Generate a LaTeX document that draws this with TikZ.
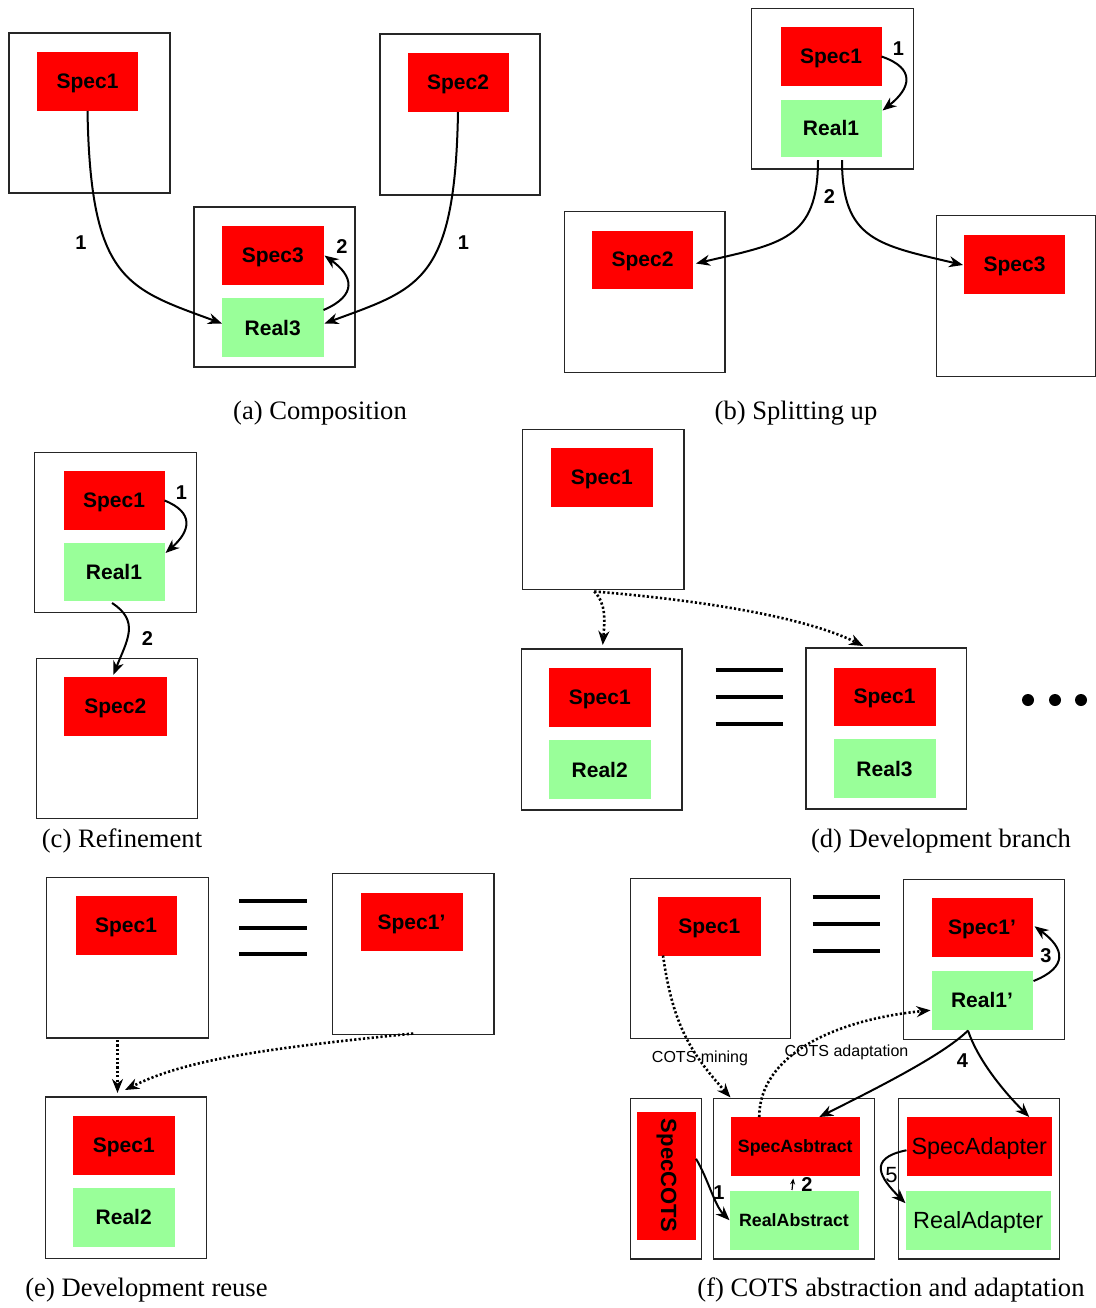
\documentclass[tikz,border=0pt]{standalone}
\usepackage{fontspec}
\setmainfont{Liberation Serif}
\setsansfont{Liberation Sans}
\usetikzlibrary{arrows.meta,calc}
\definecolor{specred}{RGB}{255,0,0}
\definecolor{realgreen}{RGB}{153,255,153}
% \mkbox{style}{name}{x1}{y1}{x2}{y2}{text}: rectangle given by its corners
\newcommand\mkbox[7]{\node[#1, minimum width={(#5-#3)*0.5pt}, minimum height={(#6-#4)*0.5pt}] (#2) at ({(#3+#5)/2},{(#4+#6)/2}) {#7};}
\begin{document}
\begin{tikzpicture}[x=0.5pt,y=-0.5pt,
  frame/.style={draw=black!85, line width=0.7pt, inner sep=0pt, outer sep=0pt},
  boxfont/.style={font=\sffamily\bfseries\fontsize{10.5}{12}\selectfont},
  spec/.style={fill=specred, inner sep=0pt, outer sep=0pt, text depth=0pt, boxfont},
  real/.style={fill=realgreen, inner sep=0pt, outer sep=0pt, text depth=0pt, boxfont},
  smallbold/.style={font=\sffamily\bfseries\fontsize{8.9}{10}\selectfont},
  bigplain/.style={font=\sffamily\fontsize{11.7}{13}\selectfont},
  arr/.style={-{Stealth[length=7pt,width=5.5pt]}, line width=1pt},
  darr/.style={dash pattern=on 1.1pt off 1.1pt, line width=1.3pt, -{Stealth[length=7pt,width=5.5pt]}},
  num/.style={font=\sffamily\bfseries\fontsize{10}{12}\selectfont, inner sep=0pt},
  plainnum/.style={font=\sffamily\fontsize{11}{13}\selectfont, inner sep=0pt},
  tag/.style={font=\sffamily\fontsize{8}{10}\selectfont, inner sep=0pt},
  subcap/.style={font=\fontsize{13.3}{16}\selectfont, inner sep=0pt},
  eq/.style={line width=2pt},
]
\useasboundingbox (0,0) rectangle (1096,1308);

% ---------------- (a) Composition ----------------
\mkbox{frame}{a1}{9}{33}{170}{193}{}
\mkbox{spec}{a1s}{37}{52}{138}{111}{Spec1}
\mkbox{frame}{a2}{380}{34}{540}{195}{}
\mkbox{spec}{a2s}{407.5}{53}{508.5}{112}{Spec2}
\mkbox{frame}{a3}{194}{207}{355}{367}{}
\mkbox{spec}{a3s}{222}{226}{323.5}{285}{Spec3}
\mkbox{real}{a3r}{222}{298}{323.5}{357}{Real3}
\draw[arr] (a1s.south) .. controls +(3,170) and +(-95,-35) .. ($(a3r.west)+(0,-4)$);
\draw[arr] (a2s.south) .. controls +(-3,170) and +(95,-35) .. ($(a3r.east)+(1,-4)$);
\draw[arr] ($(a3r.north east)+(0,12)$) .. controls +(35,-15) and +(28,20) .. ($(a3s.east)+(1,0)$);
\node[num] (al1) at (81,243) {1};
\node[num] (al2) at (463.5,243) {1};
\node[num] (al3) at (342,247) {2};
\node[subcap] (acap) at (320,413) {(a) Composition};

% ---------------- (b) Splitting up ----------------
\mkbox{frame}{b1}{751.5}{8.5}{913.5}{169}{}
\mkbox{spec}{b1s}{780.5}{27}{881.5}{86}{Spec1}
\mkbox{real}{b1r}{780.5}{99.5}{881.5}{157}{Real1}
\mkbox{frame}{b2}{564.5}{211.5}{725}{372.5}{}
\mkbox{spec}{b2s}{592}{230.5}{693}{288.5}{Spec2}
\mkbox{frame}{b3}{936.5}{215.5}{1095.5}{376.5}{}
\mkbox{spec}{b3s}{964}{234.5}{1065}{293.5}{Spec3}
\draw[arr] (b1s.east) .. controls +(35,12) and +(28,-22) .. ($(b1r.north east)+(1,11)$);
\draw[arr] ($(b1r.south)+(-13,3)$) .. controls +(0,80) and +(85,-20) .. ($(b2s.east)+(3,4)$);
\draw[arr] ($(b1r.south)+(11,3)$) .. controls +(0,80) and +(-85,-20) .. ($(b3s.west)+(-1,1)$);
\node[num] (bl1) at (898.5,48.5) {1};
\node[num] (bl2) at (829.5,197) {2};
\node[subcap] (bcap) at (796,413) {(b) Splitting up};

% ---------------- (c) Refinement ----------------
\mkbox{frame}{c1}{34.5}{452.5}{196.5}{612.5}{}
\mkbox{spec}{c1s}{63.5}{471}{164.5}{530}{Spec1}
\mkbox{real}{c1r}{63.5}{543}{164.5}{601}{Real1}
\mkbox{frame}{c2}{36.5}{658.5}{197.5}{818.5}{}
\mkbox{spec}{c2s}{64}{677}{166.5}{736}{Spec2}
\draw[arr] (c1s.east) .. controls +(30,12) and +(25,-22) .. ($(c1r.north east)+(1,10)$);
\draw[arr] ($(c1r.south)+(-2,2)$) .. controls +(28,18) and +(14,-35) .. ($(c2s.north)+(-2,-2)$);
\node[num] (cl1) at (181.5,492.5) {1};
\node[num] (cl2) at (147.5,638.5) {2};
\node[subcap] (ccap) at (122,841) {(c) Refinement};

% ---------------- (d) Development branch ----------------
\mkbox{frame}{d1}{522.5}{429.5}{684}{589.5}{}
\mkbox{spec}{d1s}{551}{448}{652.5}{507}{Spec1}
\mkbox{frame}{d2}{521.5}{649}{682}{810}{}
\mkbox{spec}{d2s}{549}{667.5}{650.5}{726.5}{Spec1}
\mkbox{real}{d2r}{549}{740}{650.5}{799}{Real2}
\mkbox{frame}{d3}{806}{648}{966.5}{809}{}
\mkbox{spec}{d3s}{833.5}{667.5}{935.5}{725.5}{Spec1}
\mkbox{real}{d3r}{833.5}{739}{935.5}{798}{Real3}
\draw[eq] (715.5,669.5) -- (782.5,669.5);
\draw[eq] (715.5,696.5) -- (782.5,696.5);
\draw[eq] (715.5,723.5) -- (782.5,723.5);
\fill (1028,700) circle[radius=3pt];
\fill (1055,700) circle[radius=3pt];
\fill (1081,700) circle[radius=3pt];
\draw[darr] ($(d1.south)+(-9,2)$) .. controls +(12,12) and +(2,-25) .. ($(d2.north)+(1,-4)$);
\draw[darr] ($(d1.south)+(-9,2)$) .. controls +(100,8) and +(-60,-30) .. ($(d3.north)+(-23,-2)$);
\node[subcap] (dcap) at (941,841) {(d) Development branch};

% ---------------- (e) Development reuse ----------------
\mkbox{frame}{e1}{46.5}{877.5}{208.5}{1038}{}
\mkbox{spec}{e1s}{75.5}{896}{176.5}{955}{Spec1}
\draw[eq] (239,901) -- (306.5,901);
\draw[eq] (239,928) -- (306.5,928);
\draw[eq] (239,954) -- (306.5,954);
\mkbox{frame}{e2}{332.5}{873.5}{494}{1034.5}{}
\mkbox{spec}{e2s}{360.5}{893}{462.5}{951}{Spec1’}
\mkbox{frame}{e3}{45.5}{1097}{206.5}{1258.5}{}
\mkbox{spec}{e3s}{73}{1115.5}{174.5}{1174.5}{Spec1}
\mkbox{real}{e3r}{73}{1188}{174.5}{1246.5}{Real2}
\draw[darr] ($(e1.south)+(-10,2)$) -- ($(e3.north)+(-8.5,-4)$);
\draw[darr] ($(e2.south)+(0,-1)$) .. controls +(-150,15) and +(60,-30) .. ($(e3.north)+(-1,-7)$);
\node[subcap] (ecap) at (146.5,1290) {(e) Development reuse};

% ---------------- (f) COTS abstraction and adaptation ----------------
\mkbox{frame}{f1}{630.5}{878.5}{790.5}{1038.5}{}
\mkbox{spec}{f1s}{658}{897}{760.5}{955.5}{Spec1}
\draw[eq] (812.5,896.5) -- (879.5,896.5);
\draw[eq] (812.5,923.5) -- (879.5,923.5);
\draw[eq] (812.5,950.5) -- (879.5,950.5);
\mkbox{frame}{f2}{903.5}{879.5}{1064.5}{1039.5}{}
\mkbox{spec}{f2s}{931.5}{898}{1032.5}{956.5}{Spec1’}
\mkbox{real}{f2r}{931.5}{971}{1032.5}{1029.5}{Real1’}
\mkbox{frame}{f3}{630.5}{1098.5}{701.5}{1259}{}
\mkbox{spec}{f3s}{637}{1112}{696}{1239.5}{}
\node[rotate=-90, font=\sffamily\bfseries\fontsize{11}{13}\selectfont, inner sep=0pt] (f3t) at (f3s.center) {SpecCOTS};
\mkbox{frame}{f4}{713.5}{1098.5}{874.5}{1259}{}
\mkbox{spec, smallbold}{f4s}{731}{1117}{859.5}{1175.5}{SpecAsbtract}
\mkbox{real, smallbold}{f4r}{729.5}{1191}{858.5}{1249.5}{RealAbstract}
\mkbox{frame}{f5}{898.5}{1098.5}{1059.5}{1259}{}
\mkbox{spec, bigplain}{f5s}{906.5}{1117}{1052}{1175.5}{SpecAdapter}
\mkbox{real, bigplain}{f5r}{905.5}{1191}{1051}{1249.5}{RealAdapter}
\draw[darr] ($(f1s.south west)+(5,0)$) .. controls +(10,70) and +(-40,-45) .. ($(f4.north west)+(17,-1)$);
\draw[darr] ($(f4s.north)+(-36,0)$) .. controls +(0,-60) and +(-100,10) .. ($(f2r.west)+(-1,10)$);
\node[tag] (fmine) at (700,1058) {COTS mining};
\node[tag] (fadapt) at (846.5,1052.5) {COTS adaptation};
\draw[arr] ($(f2r.north east)+(1,10)$) .. controls +(35,-14) and +(30,22) .. ($(f2s.east)+(2,-1)$);
\draw[arr] ($(f2r.south)+(-14,1)$) .. controls +(-25,25) and +(50,-25) .. ($(f4s.north)+(24,0)$);
\draw[arr] ($(f2r.south)+(-14,1)$) .. controls +(10,30) and +(-25,-25) .. ($(f5s.north)+(50,0)$);
\draw[arr] ($(f5s.west)+(0,4)$) .. controls +(-40,8) and +(-25,-25) .. ($(f5r.west)+(0,-17)$);
\draw[arr] ($(f3s.east)+(0,-17)$) .. controls +(12,20) and +(-15,-15) .. (f4r.west);
\draw[-{Stealth[length=3pt,width=2.5pt]}, line width=0.6pt] ($(f4r.north)+(-2,-1)$) -- ($(f4s.south)+(-2,3)$);
\node[num] (fl3) at (1046,956) {3};
\node[num] (fl4) at (962.5,1061) {4};
\node[plainnum] (fl5) at (891.5,1175.5) {5};
\node[num] (fl1) at (719,1193) {1};
\node[num] (fl2) at (807,1185) {2};
\node[subcap] (fcap) at (891,1290) {(f) COTS abstraction and adaptation};
\end{tikzpicture}
\end{document}
